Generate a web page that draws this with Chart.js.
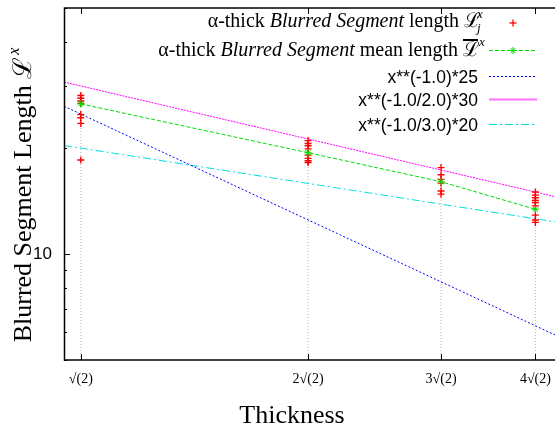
<!DOCTYPE html>
<html><head><meta charset="utf-8">
<script src="https://cdn.jsdelivr.net/npm/chart.js@4.4.0/dist/chart.umd.min.js"></script>
<style>
html,body{margin:0;padding:0;background:#fff;overflow:hidden;}
#wrap{width:555px;height:430px;overflow:hidden;position:relative;background:#fff;}
canvas{display:block;}
</style></head><body>
<div id="wrap"><canvas id="c" width="600" height="430"></canvas></div>
<script>
// ---- data ----
const xTicks = [1, 2, 3, 4];
const xTickLabels = ['√(2)', '2√(2)', '3√(2)', '4√(2)'];
const yTicks = [5, 6, 7, 8, 9, 10, 20, 30, 40, 50];
const yMajor = [10];

const lengthX = [1,1,1,1,1,1,1,1, 2,2,2,2,2,2,2,2, 3,3,3,3,3,3, 4,4,4,4,4,4,4,4,4];
const lengthY = [28.2,27.7,27.2,26.8,24.9,24.4,23.5,18.5,
                 21.0,20.6,20.3,19.9,19.1,18.7,18.4,18.2,
                 17.6,16.8,16.3,15.9,15.1,14.8,
                 15.0,14.7,14.45,14.2,14.0,13.7,12.9,12.5,12.3];
const meanX = [1, 2, 3, 4];
const meanY = [26.7, 19.4, 16.05, 13.4];

const fitX = [0.95, 4.5];
const fit1Y = [26.3, 5.56];    // x**(-1.0)*25
const fit2Y = [30.8, 14.14];   // x**(-1.0/2.0)*30
const fit3Y = [20.34, 12.11];  // x**(-1.0/3.0)*20

const guideTopY = [28.2, 21.0, 17.6, 15.0];

const fitLabels = ['x**(-1.0)*25', 'x**(-1.0/2.0)*30', 'x**(-1.0/3.0)*20'];

// ---- build ----
const pts = (xs, ys) => xs.map((v, i) => ({x: v, y: ys[i]}));
const guideData = [];
xTicks.forEach((v, i) => { guideData.push({x: v, y: 5}, {x: v, y: guideTopY[i]}, {x: v, y: null}); });

const C = {red:'#ff0000', green:'#00dd00', blue:'#0000ff', magenta:'#ff00ff', cyan:'#00e0e0', gray:'#b4b4b4'};
const SERIF = '"Liberation Serif","DejaVu Serif",serif';
const SANS = '"Liberation Sans",Arial,sans-serif';

function seg(ctx, x1, y1, x2, y2){ ctx.beginPath(); ctx.moveTo(x1,y1); ctx.lineTo(x2,y2); ctx.stroke(); }

function drawRunsRight(ctx, runs, xRight, baseline){
  let w = 0;
  runs.forEach(r => { ctx.font = r.f; w += ctx.measureText(r.t).width; });
  let x = xRight - w;
  ctx.textAlign = 'left'; ctx.textBaseline = 'alphabetic';
  runs.forEach(r => { ctx.font = r.f; ctx.fillText(r.t, x, baseline); x += ctx.measureText(r.t).width; });
}

const frame = {
  id: 'frame',
  afterDraw(chart){
    const {ctx, chartArea: a, scales: {x, y}} = chart;
    ctx.save();
    ctx.setLineDash([]);
    ctx.strokeStyle = '#000';
    ctx.lineWidth = 1.5;
    ctx.strokeRect(a.left + 0.5, a.top, a.right - a.left, a.bottom - a.top);
    ctx.lineWidth = 1;
    xTicks.forEach(v => {
      const px = Math.round(x.getPixelForValue(v)) + 0.5;
      seg(ctx, px, a.bottom, px, a.bottom - 6);
      seg(ctx, px, a.top, px, a.top + 6);
    });
    yTicks.forEach(v => {
      const py = Math.round(y.getPixelForValue(v)) + 0.5;
      const L = yMajor.includes(v) ? 6 : 3;
      seg(ctx, a.left, py, a.left + L, py);
      seg(ctx, a.right, py, a.right - L, py);
    });

    // axis titles
    ctx.fillStyle = '#000';
    ctx.font = '26px ' + SERIF;
    ctx.textAlign = 'center'; ctx.textBaseline = 'alphabetic';
    ctx.fillText('Thickness', 292, 423);

    ctx.save();
    ctx.translate(31, 195);
    ctx.rotate(-Math.PI / 2);
    const t1 = 'Blurred Segment Length ';
    ctx.font = '26px ' + SERIF; const w1 = ctx.measureText(t1).width;
    const w2 = ctx.measureText('ℒ').width;
    ctx.font = 'italic 16px ' + SERIF; const w3 = ctx.measureText('x').width;
    let sx = -(w1 + w2 + w3 + 2) / 2;
    ctx.textAlign = 'left';
    ctx.font = '26px ' + SERIF; ctx.fillText(t1, sx, 0); sx += w1;
    ctx.fillText('ℒ', sx, 0); sx += w2 + 2;
    ctx.font = 'italic 16px ' + SERIF; ctx.fillText('x', sx, -12);
    ctx.restore();

    // legend
    const sL = 489, sR = 537, sM = 513;
    const rowY = [23, 50.5, 76.5, 99.5, 124.5];
    const f20 = '20px ' + SERIF, fi20 = 'italic 20px ' + SERIF;
    // row 1
    drawRunsRight(ctx, [{t:'α-thick ', f:f20}, {t:'Blurred Segment', f:fi20}, {t:' length ', f:f20}], 464, 27);
    ctx.font = f20; ctx.textAlign = 'left';
    ctx.fillText('ℒ', 464, 27);
    ctx.font = 'italic 13px ' + SERIF;
    ctx.fillText('j', 477, 32);
    ctx.fillText('x', 477, 18);
    // row 2
    drawRunsRight(ctx, [{t:'α-thick ', f:f20}, {t:'Blurred Segment', f:fi20}, {t:' mean length ', f:f20}], 463, 56);
    ctx.font = f20; ctx.textAlign = 'left';
    ctx.fillText('ℒ', 463, 56);
    ctx.fillRect(463, 39, 15, 2);
    ctx.font = 'italic 13px ' + SERIF;
    ctx.fillText('x', 479, 46);
    // rows 3-5
    ctx.font = '17.5px ' + SANS; ctx.textAlign = 'right';
    fitLabels.forEach((t, i) => ctx.fillText(t, 478, rowY[2 + i] + 6));

    // samples
    ctx.lineWidth = 1.3;
    ctx.strokeStyle = C.red; ctx.setLineDash([]);
    seg(ctx, sM - 3.5, rowY[0], sM + 3.5, rowY[0]); seg(ctx, sM, rowY[0] - 3.5, sM, rowY[0] + 3.5);
    ctx.lineWidth = 1;
    ctx.strokeStyle = C.green; ctx.setLineDash([4, 2]);
    seg(ctx, sL, rowY[1], sR, rowY[1]);
    ctx.setLineDash([]);
    const r = 3.5;
    seg(ctx, sM - r, rowY[1], sM + r, rowY[1]); seg(ctx, sM, rowY[1] - r, sM, rowY[1] + r);
    seg(ctx, sM - r*0.7, rowY[1] - r*0.7, sM + r*0.7, rowY[1] + r*0.7); seg(ctx, sM - r*0.7, rowY[1] + r*0.7, sM + r*0.7, rowY[1] - r*0.7);
    ctx.strokeStyle = C.blue; ctx.setLineDash([2, 2]); seg(ctx, sL, rowY[2], sR, rowY[2]);
    ctx.lineWidth = 2;
    ctx.strokeStyle = '#ff70ff'; ctx.setLineDash([]); seg(ctx, sL, rowY[3], sR, rowY[3]);
    ctx.lineWidth = 1.2;
    ctx.strokeStyle = C.cyan; ctx.setLineDash([8, 3, 2, 3]); seg(ctx, sL, rowY[4], sR, rowY[4]);
    ctx.restore();
  }
};

new Chart(document.getElementById('c'), {
  type: 'scatter',
  data: {
    datasets: [
      {type:'line', label:'mean', data: pts(meanX, meanY), borderColor: C.green, borderWidth: 1, borderDash: [4, 2],
       pointStyle: 'star', pointRadius: 3.5, pointBorderColor: C.green, pointBorderWidth: 1, pointBackgroundColor: C.green,
       fill: false, tension: 0, order: 0},
      {type:'scatter', label:'length', data: pts(lengthX, lengthY), pointStyle: 'cross', pointRadius: 3.5,
       borderColor: C.red, pointBorderColor: C.red, pointBorderWidth: 1.4, showLine: false, order: 1},
      {type:'line', label: fitLabels[0], data: pts(fitX, fit1Y), borderColor: C.blue, borderWidth: 1, borderDash: [2, 2], pointRadius: 0, fill: false, order: 2},
      {type:'line', label: fitLabels[1], data: pts(fitX, fit2Y), borderColor: C.magenta, borderWidth: 1, borderDash: [2, 1], pointRadius: 0, fill: false, order: 3},
      {type:'line', label: fitLabels[2], data: pts(fitX, fit3Y), borderColor: C.cyan, borderWidth: 1, borderDash: [8, 3, 2, 3], pointRadius: 0, fill: false, order: 4},
      {type:'line', label:'guide', data: guideData, borderColor: C.gray, borderWidth: 1, borderDash: [1, 2], pointRadius: 0, fill: false, spanGaps: false, order: 5}
    ]
  },
  options: {
    responsive: false,
    devicePixelRatio: 1,
    animation: false,
    events: [],
    layout: {padding: {top: 8, right: 26, left: 0, bottom: 0}},
    plugins: {legend: {display: false}, tooltip: {enabled: false}, title: {display: false}},
    scales: {
      x: {
        type: 'logarithmic', min: 0.95, max: 4.5, position: 'bottom',
        grid: {display: false, drawTicks: false}, border: {display: false},
        afterBuildTicks: s => { s.ticks = xTicks.map(v => ({value: v})); },
        afterFit: s => { s.height = 70; s.paddingLeft = 0; s.paddingRight = 0; },
        ticks: {autoSkip: false, maxRotation: 0, padding: 11, color: '#000',
                font: {family: 'Liberation Serif', size: 14},
                callback: v => { const i = xTicks.indexOf(v); return i >= 0 ? xTickLabels[i] : ''; }}
      },
      y: {
        type: 'logarithmic', min: 5, max: 50,
        grid: {display: false, drawTicks: false}, border: {display: false},
        afterBuildTicks: s => { s.ticks = yTicks.map(v => ({value: v, major: yMajor.includes(v)})); },
        afterFit: s => { s.width = 64; s.paddingTop = 0; s.paddingBottom = 0; },
        ticks: {autoSkip: false, padding: 12, color: '#000',
                font: {family: 'Liberation Sans', size: 17},
                callback: v => yMajor.includes(v) ? String(v) : ''}
      }
    }
  },
  plugins: [frame]
});
</script>
</body></html>
